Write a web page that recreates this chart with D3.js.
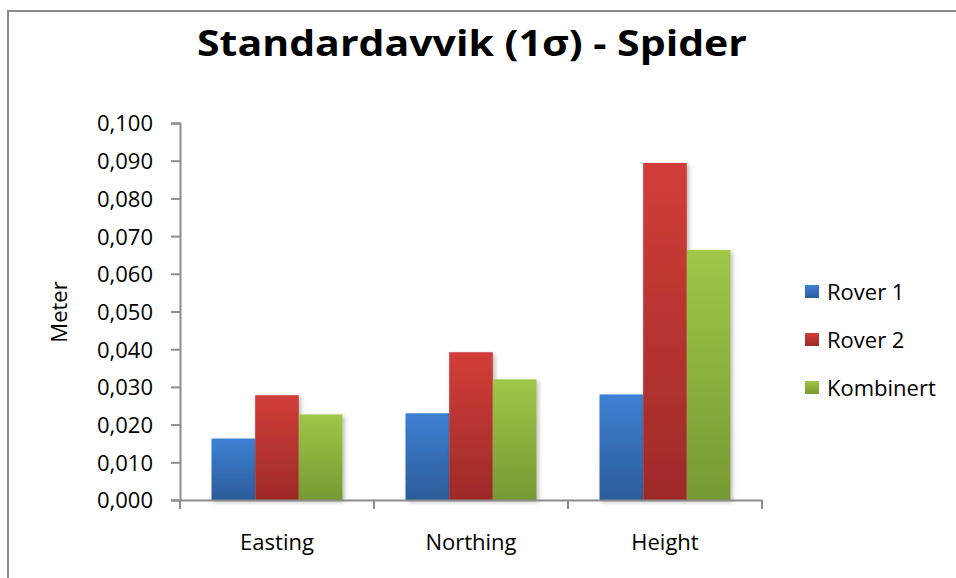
<!DOCTYPE html>
<html>
<head>
<meta charset="utf-8">
<script src="https://cdn.jsdelivr.net/npm/d3@7"></script>
<style>
  html, body { margin: 0; padding: 0; background: #fff; }
  svg { display: block; }
  text { font-family: "Open Sans", "Noto Sans", sans-serif; fill: #000; }
</style>
</head>
<body>
<svg id="chart" width="956" height="578"></svg>
<script>
// Standard deviation (1 sigma) per component, in metres
const categories = ["Easting", "Northing", "Height"];
const seriesNames = ["Rover 1", "Rover 2", "Kombinert"];
const rover1 = [0.0163, 0.0230, 0.0280];
const rover2 = [0.0278, 0.0392, 0.0894];
const kombinert = [0.0227, 0.0320, 0.0663];
const yTicks = [0, 0.01, 0.02, 0.03, 0.04, 0.05, 0.06, 0.07, 0.08, 0.09, 0.1];
const titleText = "Standardavvik (1σ) - Spider";
const yLabel = "Meter";

const seriesValues = [rover1, rover2, kombinert];
const palette = [
  { top: "#3d80d3", bottom: "#2c5c9a" },
  { top: "#d23e38", bottom: "#9d2a28" },
  { top: "#9fc748", bottom: "#779933" }
];

const svg = d3.select("#chart");
const defs = svg.append("defs");

palette.forEach((c, i) => {
  const g = defs.append("linearGradient")
    .attr("id", "grad" + i).attr("x1", 0).attr("y1", 0).attr("x2", 0).attr("y2", 1);
  g.append("stop").attr("offset", "0%").attr("stop-color", c.top);
  g.append("stop").attr("offset", "100%").attr("stop-color", c.bottom);
});

const shadow = defs.append("filter").attr("id", "shadow")
  .attr("x", "-20%").attr("y", "-5%").attr("width", "150%").attr("height", "120%");
shadow.append("feDropShadow").attr("dx", 2).attr("dy", 2)
  .attr("stdDeviation", 2.2).attr("flood-color", "#000").attr("flood-opacity", 0.28);

const lineShadow = defs.append("filter").attr("id", "lineShadow")
  .attr("x", "-5%").attr("y", "-200%").attr("width", "110%").attr("height", "500%");
lineShadow.append("feDropShadow").attr("dx", 0).attr("dy", 1)
  .attr("stdDeviation", 0.8).attr("flood-color", "#000").attr("flood-opacity", 0.25);

// outer chart frame
svg.append("rect")
  .attr("x", 8).attr("y", 11).attr("width", 1000).attr("height", 620)
  .attr("fill", "none").attr("stroke", "#8a8a8a").attr("stroke-width", 2);

// title
svg.append("text")
  .attr("x", 472).attr("y", 56)
  .attr("text-anchor", "middle")
  .attr("font-size", 36).attr("font-weight", 700)
  .attr("textLength", 550).attr("lengthAdjust", "spacingAndGlyphs")
  .text(titleText);

const plot = { left: 180, right: 762, top: 123, bottom: 500 };

const y = d3.scaleLinear().domain([0, 0.1]).range([plot.bottom, plot.top]);
const x0 = d3.scaleBand().domain(categories)
  .range([plot.left, plot.right]).paddingInner(0.325).paddingOuter(0.1625);
const x1 = d3.scaleBand().domain(seriesNames).range([0, x0.bandwidth()]).padding(0);

const fmt = v => d3.format(".3f")(v).replace(".", ",");

// horizontal gridlines
svg.append("g").selectAll("line").data(yTicks).join("line")
  .attr("x1", plot.left).attr("x2", plot.right)
  .attr("y1", d => y(d)).attr("y2", d => y(d))
  .attr("stroke", "#8c8c8c").attr("stroke-width", 2)
  .attr("filter", "url(#lineShadow)");

// bars
const groups = svg.append("g").selectAll("g").data(categories).join("g")
  .attr("transform", d => `translate(${x0(d)},0)`);
groups.selectAll("rect")
  .data((c, ci) => seriesNames.map((s, si) => ({ s, si, v: seriesValues[si][ci] })))
  .join("rect")
  .attr("x", d => x1(d.s))
  .attr("y", d => y(d.v))
  .attr("width", x1.bandwidth())
  .attr("height", d => y(0) - y(d.v))
  .attr("fill", d => `url(#grad${d.si})`)
  .attr("filter", "url(#shadow)");

// y axis
const yAxis = d3.axisLeft(y).tickValues(yTicks).tickFormat(fmt).tickSize(9).tickPadding(18);
const gy = svg.append("g").attr("transform", `translate(${plot.left},0)`).call(yAxis);
gy.select(".domain").attr("stroke", "#8c8c8c").attr("stroke-width", 2);
gy.selectAll(".tick line").attr("stroke", "#8c8c8c").attr("stroke-width", 2);
gy.selectAll(".tick text").attr("font-size", 22).attr("fill", "#000")
  .attr("font-family", "'Open Sans', sans-serif").attr("dy", "0.36em");

// x axis
const xAxis = d3.axisBottom(x0).tickSize(0).tickPadding(0);
const gx = svg.append("g").attr("transform", `translate(0,${plot.bottom})`).call(xAxis);
gx.select(".domain").attr("stroke", "#8c8c8c").attr("stroke-width", 2);
gx.selectAll(".tick text").attr("font-size", 22).attr("fill", "#000")
  .attr("font-family", "'Open Sans', sans-serif").attr("y", 50).attr("dy", 0);
// category boundary ticks
const bounds = categories.map(c => x0(c) - x0.step() * x0.paddingOuter()).concat([plot.right]);
gx.selectAll("line.bound").data(bounds).join("line").attr("class", "bound")
  .attr("x1", d => d).attr("x2", d => d).attr("y1", 0).attr("y2", 9)
  .attr("stroke", "#8c8c8c").attr("stroke-width", 2);

// y axis title
svg.append("text")
  .attr("transform", "translate(67,312) rotate(-90)")
  .attr("text-anchor", "middle").attr("font-size", 22)
  .text(yLabel);

// legend
const legend = svg.append("g").selectAll("g").data(seriesNames).join("g")
  .attr("transform", (d, i) => `translate(805,${292 + i * 48})`);
legend.append("rect").attr("x", 0).attr("y", -7).attr("width", 14).attr("height", 13)
  .attr("fill", (d, i) => `url(#grad${i})`);
legend.append("text").attr("x", 22).attr("y", 0).attr("dy", "0.36em")
  .attr("font-size", 22).text(d => d);
</script>
</body>
</html>
